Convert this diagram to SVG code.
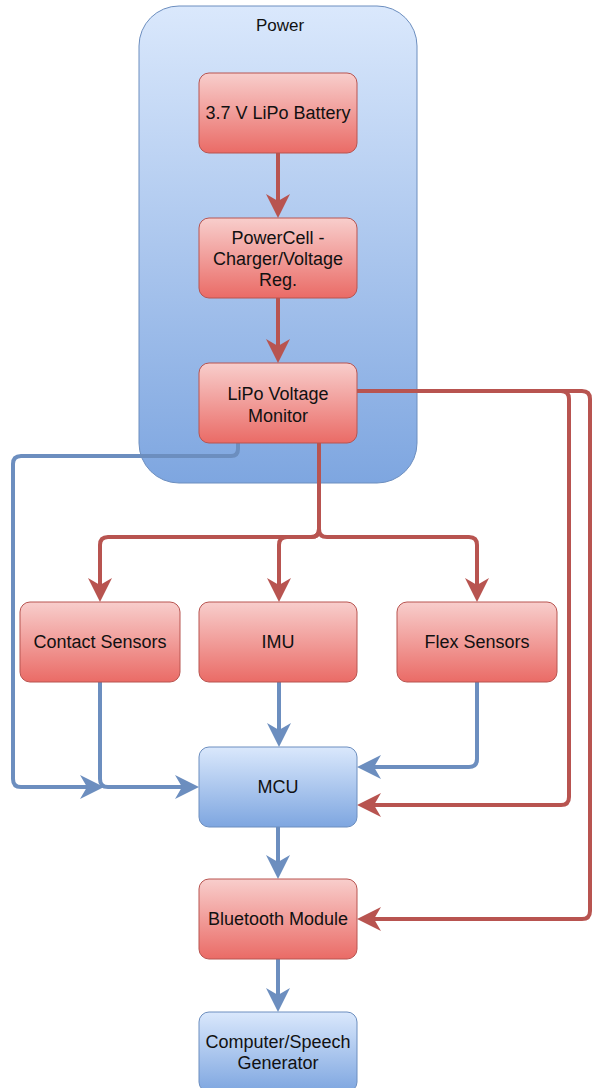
<svg xmlns="http://www.w3.org/2000/svg" width="593" height="1088" viewBox="0 0 593 1088">
<defs>
<linearGradient id="gBlue" x1="0" y1="0" x2="0" y2="1"><stop offset="0" stop-color="#dae8fc"/><stop offset="1" stop-color="#7ea6e0"/></linearGradient>
<linearGradient id="gRed" x1="0" y1="0" x2="0" y2="1"><stop offset="0" stop-color="#f8cecc"/><stop offset="1" stop-color="#ea6b66"/></linearGradient>
<marker id="aRed" markerUnits="userSpaceOnUse" viewBox="0 0 24 24" markerWidth="24" markerHeight="24" refX="7" refY="12" orient="auto"><path d="M0,0 L24,12 L0,24 L7,12 Z" fill="#b85450"/></marker>
<marker id="aBlue" markerUnits="userSpaceOnUse" viewBox="0 0 24 24" markerWidth="24" markerHeight="24" refX="7" refY="12" orient="auto"><path d="M0,0 L24,12 L0,24 L7,12 Z" fill="#6c8ebf"/></marker>
</defs>
<style>
.red{fill:url(#gRed);stroke:#b85450;stroke-width:1}
.blue{fill:url(#gBlue);stroke:#6c8ebf;stroke-width:1}
text{font-family:"Liberation Sans",Arial,sans-serif;font-size:18px;fill:#111;text-anchor:middle}
.er{fill:none;stroke:#b85450;stroke-width:4;marker-end:url(#aRed)}
.eb{fill:none;stroke:#6c8ebf;stroke-width:4;marker-end:url(#aBlue)}
</style>
<g id="power">
<rect x="139" y="6" width="278" height="477" rx="40" class="blue"/>
<text x="280" y="31" style="font-size:17px">Power</text>
</g>
<g id="connectors">
<path class="er" d="M278,153 V201"/>
<path class="er" d="M278,298 V346"/>
<path class="er" d="M319,443 V529 Q319,537 311,537 H108 Q100,537 100,545 V585"/>
<path class="er" d="M319,443 V529 Q319,537 311,537 H287 Q279,537 279,545 V585"/>
<path class="er" d="M319,443 V529 Q319,537 327,537 H469 Q477,537 477,545 V585"/>
<path class="er" d="M357,391 H561 Q569,391 569,399 V797 Q569,805 561,805 H374"/>
<path class="er" d="M357,391 H582 Q590,391 590,399 V911 Q590,919 582,919 H374"/>
<path class="eb" d="M238,443 V449 Q238,456 231,456 H21 Q13,456 13,464 V779 Q13,787 21,787 H87"/>
<path class="eb" d="M100,682 V779 Q100,787 108,787 H182"/>
<path class="eb" d="M279,682 V730"/>
<path class="eb" d="M477,682 V759 Q477,767 469,767 H374"/>
<path class="eb" d="M278,827 V862"/>
<path class="eb" d="M278,959 V995"/>
</g>
<g id="battery"><rect x="199" y="73" width="158" height="80" rx="10" class="red"/><text x="278" y="119">3.7 V LiPo Battery</text></g>
<g id="powercell"><rect x="199" y="218" width="158" height="80" rx="10" class="red"/><text x="278" y="244">PowerCell -</text><text x="278" y="265">Charger/Voltage</text><text x="278" y="286">Reg.</text></g>
<g id="monitor"><rect x="199" y="363" width="158" height="80" rx="10" class="red"/><text x="278" y="400">LiPo Voltage</text><text x="278" y="422">Monitor</text></g>
<g id="contact"><rect x="20" y="602" width="160" height="80" rx="10" class="red"/><text x="100" y="648">Contact Sensors</text></g>
<g id="imu"><rect x="199" y="602" width="158" height="80" rx="10" class="red"/><text x="278" y="648">IMU</text></g>
<g id="flex"><rect x="397" y="602" width="160" height="80" rx="10" class="red"/><text x="477" y="648">Flex Sensors</text></g>
<g id="mcu"><rect x="199" y="747" width="158" height="80" rx="10" class="blue"/><text x="278" y="793">MCU</text></g>
<g id="bluetooth"><rect x="199" y="879" width="158" height="80" rx="10" class="red"/><text x="278" y="925">Bluetooth Module</text></g>
<g id="computer"><rect x="199" y="1012" width="158" height="80" rx="10" class="blue"/><text x="278" y="1048">Computer/Speech</text><text x="278" y="1069">Generator</text></g>
</svg>
